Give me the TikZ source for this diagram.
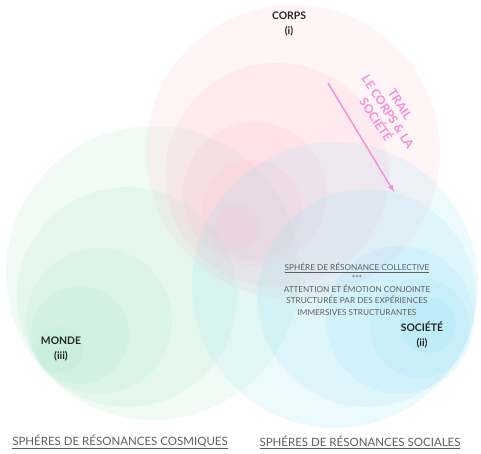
\documentclass[tikz,border=0pt]{standalone}
\usepackage{fontspec}
\setmainfont{Lato}
\definecolor{corpspink}{RGB}{255,185,200}
\definecolor{mondegreen}{RGB}{165,228,195}
\definecolor{societeblue}{RGB}{145,222,245}
\definecolor{trailpink}{RGB}{250,140,215}
\definecolor{labelgray}{RGB}{95,95,95}

\begin{document}
\begin{tikzpicture}[x=1pt,y=-1pt,
		corps/.style={fill=corpspink,fill opacity=0.16},
		monde/.style={fill=mondegreen,fill opacity=0.16},
		societe/.style={fill=societeblue,fill opacity=0.16},
		sphere/.style={font=\fontsize{10.4}{15}\selectfont\bfseries,align=center,text=black!85},
		legend/.style={font=\fontsize{8.2}{11.2}\selectfont,align=center,text=labelgray},
		family/.style={font=\fontsize{11.5}{13}\selectfont,text=labelgray},
		trail/.style={draw=trailpink,line width=1.4pt,-latex},
		traillabel/.style={font=\fontsize{12}{14.5}\selectfont\bfseries,align=center,text=trailpink,rotate=-57}]
		\useasboundingbox (0,0) rectangle (481,453);

		\fill[monde] (153,273) circle (147);
		\fill[monde] (127,297) circle (110);
		\fill[monde] (99,321) circle (73);
		\fill[monde] (80,335) circle (49);
		\fill[monde] (60,350) circle (23);

		\fill[corps] (293,152) circle (147);
		\fill[corps] (277,175) circle (112);
		\fill[corps] (255,194) circle (72);
		\fill[corps] (252,210) circle (50);
		\fill[corps] (237,227) circle (23);

		\fill[societe] (335,285) circle (143);
		\fill[societe] (367,298) circle (109);
		\fill[societe] (400,320) circle (74);
		\fill[societe] (420,328) circle (50);
		\fill[societe] (428,325) circle (28);

		\draw (289,24) node [sphere] (corps){CORPS\\(i)};
		\draw (422,335) node [sphere] (societe){SOCIÉTÉ\\(ii)};
		\draw (61,349) node [sphere] (monde){MONDE\\(iii)};

		\draw (357,289) node [legend] (collective){\underline{SPHÉRE DE RÉSONANCE COLLECTIVE}\\***\\ATTENTION ET ÉMOTION CONJOINTE\\STRUCTURÉE PAR DES EXPÉRIENCES\\IMMERSIVES STRUCTURANTES};

		\draw (388,112) node [traillabel] (trailtext){TRAIL\\LE CORPS \& LA\\SOCIÉTÉ};
		\coordinate (trailstart) at (328,83);
		\coordinate (trailend) at (394,192);
		\draw[trail] (trailstart) -- (trailend);

		\draw (120,442) node [family] (cosmiques){\underline{SPHÉRES DE RÉSONANCES COSMIQUES}};
		\draw (360,442) node [family] (sociales){\underline{SPHÉRES DE RÉSONANCES SOCIALES}};
	\end{tikzpicture}
\end{document}
